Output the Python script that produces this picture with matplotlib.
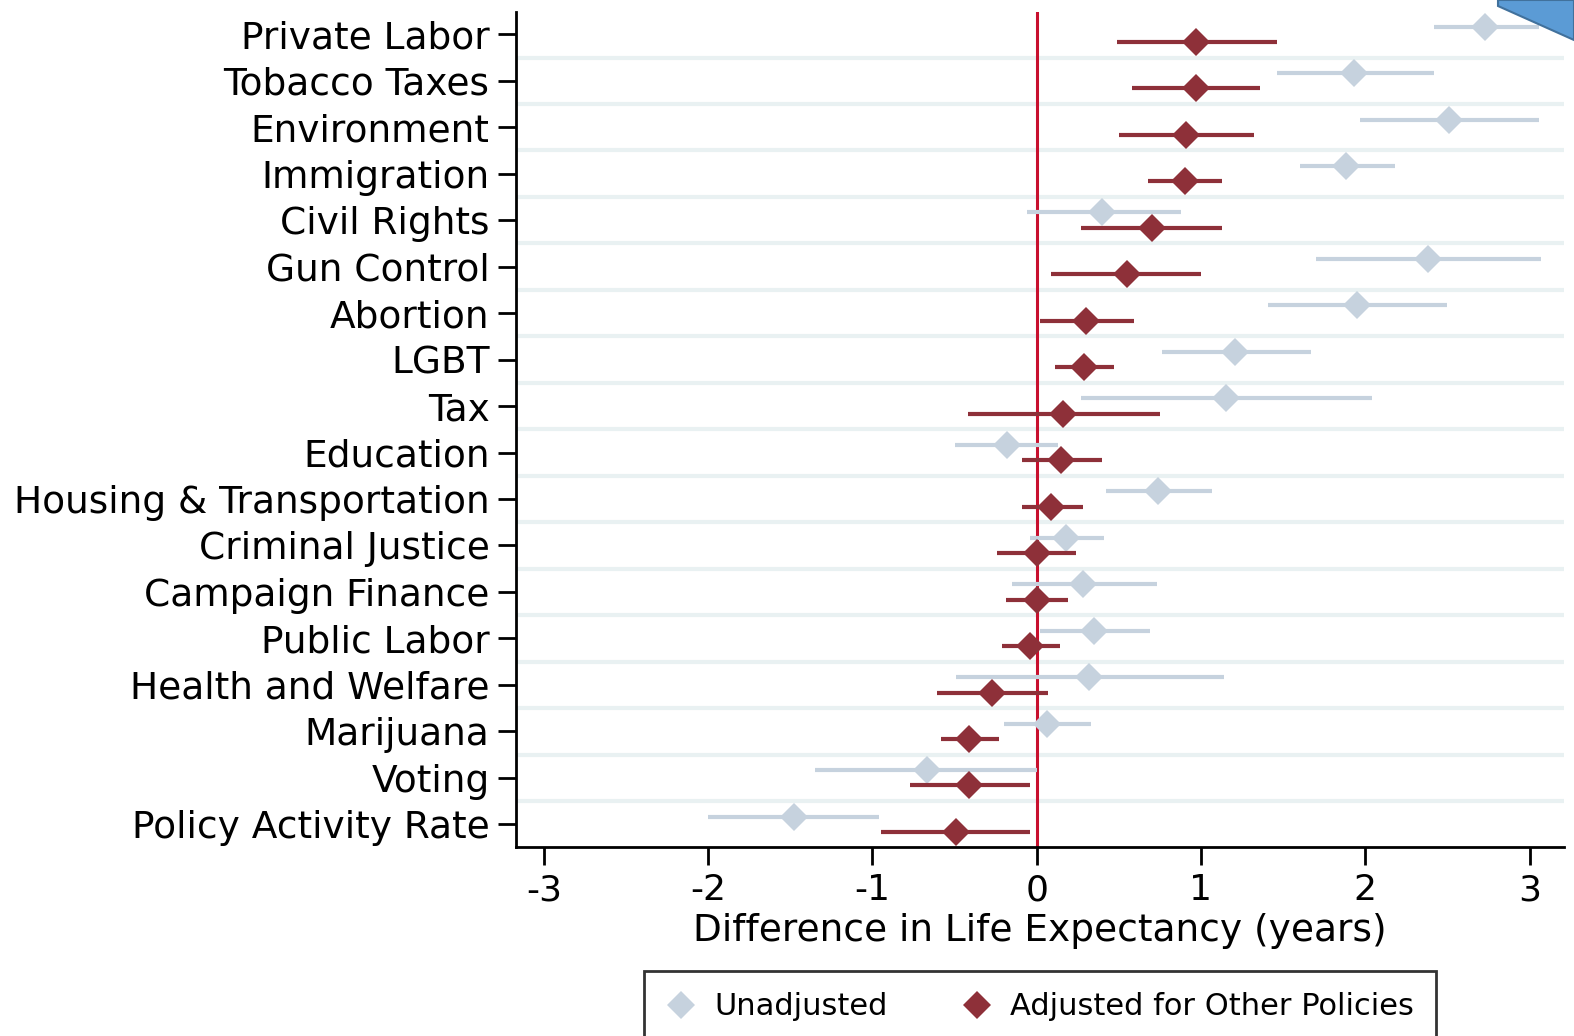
import numpy as np
import matplotlib
matplotlib.use("Agg")
import matplotlib.pyplot as plt
from matplotlib.patches import Polygon

categories = ["Private Labor", "Tobacco Taxes", "Environment", "Immigration",
              "Civil Rights", "Gun Control", "Abortion", "LGBT", "Tax",
              "Education", "Housing & Transportation", "Criminal Justice",
              "Campaign Finance", "Public Labor", "Health and Welfare",
              "Marijuana", "Voting", "Policy Activity Rate"]

# unadjusted estimates and 95% CI
unadj = [2.73, 1.93, 2.51, 1.88, 0.40, 2.38, 1.95, 1.21, 1.15,
         -0.18, 0.74, 0.18, 0.28, 0.35, 0.32, 0.06, -0.67, -1.48]
unadj_lo = [2.42, 1.46, 1.97, 1.60, -0.06, 1.70, 1.41, 0.76, 0.27,
            -0.50, 0.42, -0.04, -0.15, 0.02, -0.49, -0.20, -1.35, -2.00]
unadj_hi = [3.06, 2.42, 3.06, 2.18, 0.88, 3.07, 2.50, 1.67, 2.04,
            0.13, 1.07, 0.41, 0.73, 0.69, 1.14, 0.33, 0.00, -0.96]

# adjusted for other policies
adj = [0.97, 0.97, 0.91, 0.90, 0.70, 0.55, 0.30, 0.29, 0.16,
       0.15, 0.09, 0.00, 0.00, -0.04, -0.27, -0.41, -0.41, -0.49]
adj_lo = [0.49, 0.58, 0.50, 0.68, 0.27, 0.09, 0.02, 0.11, -0.42,
          -0.09, -0.09, -0.24, -0.19, -0.21, -0.61, -0.58, -0.77, -0.95]
adj_hi = [1.46, 1.36, 1.32, 1.13, 1.13, 1.00, 0.59, 0.47, 0.75,
          0.40, 0.28, 0.24, 0.19, 0.14, 0.07, -0.23, -0.04, -0.04]

xticks = [-3, -2, -1, 0, 1, 2, 3]

c_unadj = "#c6d2de"
c_adj = "#8e3039"
c_grid = "#e9f1f2"
c_zero = "#c8102e"

plt.rcParams["font.family"] = "DejaVu Sans"

fig = plt.figure(figsize=(15.74, 10.36), dpi=100)
ax = fig.add_axes([516 / 1574, 1 - 847 / 1036, (1564 - 516) / 1574, (847 - 12) / 1036])

n = len(categories)
y = np.arange(n)
off = 0.166

for g in np.arange(n - 1) + 0.5:
    ax.axhline(g, color=c_grid, lw=3, zorder=0)

ax.axvline(0, color=c_zero, lw=2.2, zorder=1)

yu = y - off
ya = y + off
ax.hlines(yu, unadj_lo, unadj_hi, color=c_unadj, lw=3, zorder=2)
ax.plot(unadj, yu, "D", color=c_unadj, ms=14.5, mew=0, zorder=3, label="Unadjusted")
ax.hlines(ya, adj_lo, adj_hi, color=c_adj, lw=3, zorder=4)
ax.plot(adj, ya, "D", color=c_adj, ms=14.5, mew=0, zorder=5, label="Adjusted for Other Policies")

ax.set_ylim(n - 1 + 0.49, -0.48)
ax.set_xlim(-3.17, 3.21)
ax.set_yticks(y)
ax.set_yticklabels(categories, fontsize=27)
ax.set_xticks(xticks)
ax.set_xticklabels([str(t) for t in xticks], fontsize=26)
ax.set_xlabel("Difference in Life Expectancy (years)", fontsize=27, labelpad=4)
ax.tick_params(axis="both", length=13, width=2, color="black")
ax.tick_params(axis="y", pad=6)
ax.tick_params(axis="x", pad=6)

for s in ["top", "right"]:
    ax.spines[s].set_visible(False)
for s in ["left", "bottom"]:
    ax.spines[s].set_linewidth(2)

leg = fig.legend(loc="upper center", bbox_to_anchor=(1040 / 1574, 1 - 971 / 1036),
                 ncol=2, fontsize=22, frameon=True, fancybox=False,
                 edgecolor="black", borderpad=0.7, handlelength=1.0,
                 handletextpad=0.6, columnspacing=2.4, borderaxespad=0)
leg.get_frame().set_linewidth(2)

# blue shape in top-right corner
poly = Polygon([(1498 / 1574, 1.0), (1498 / 1574, 1 - 6 / 1036),
                (1.0, 1 - 40 / 1036), (1.0, 1.0)], closed=True,
               transform=fig.transFigure, facecolor="#5b9bd5",
               edgecolor="#41719c", lw=1.5)
fig.patches.append(poly)

fig.savefig("out.png", dpi=100)
